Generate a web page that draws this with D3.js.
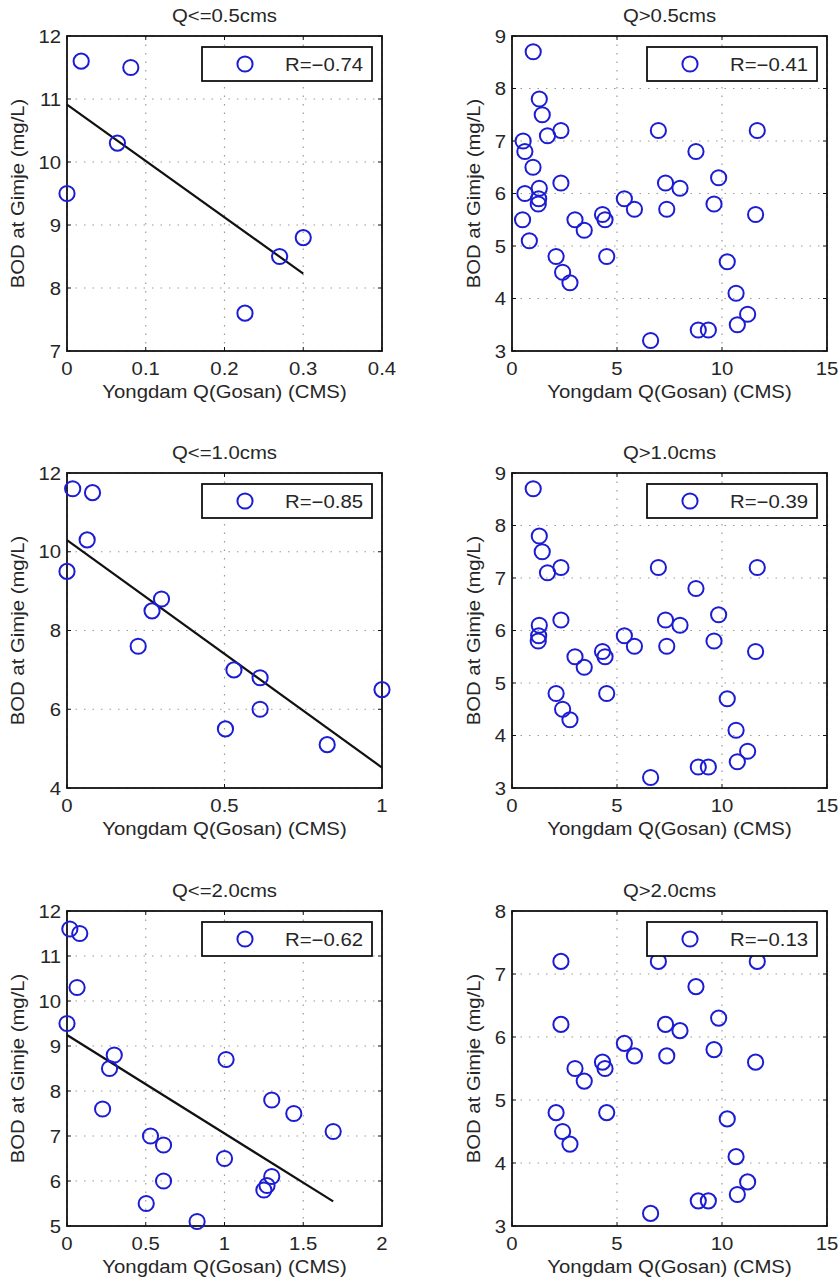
<!DOCTYPE html>
<html><head><meta charset="utf-8">
<script src="https://cdn.jsdelivr.net/npm/d3@7"></script>
<style>
body{margin:0;background:#fff}
text{font-family:"Liberation Sans",Arial,Helvetica,sans-serif;fill:#262626}
</style>
</head><body>
<svg id="c" width="839" height="1282"></svg>
<script>
// ---------- data ----------
const titles = ["Q<=0.5cms", "Q>0.5cms", "Q<=1.0cms", "Q>1.0cms", "Q<=2.0cms", "Q>2.0cms"];
const rLabels = ["R=\u22120.74", "R=\u22120.41", "R=\u22120.85", "R=\u22120.39", "R=\u22120.62", "R=\u22120.13"];
const xLabel = "Yongdam Q(Gosan) (CMS)";
const yLabel = "BOD at Gimje (mg/L)";

// Q <= 0.5
const groupA_x = [0.018, 0.081, 0.064, 0.0, 0.30, 0.27, 0.226];
const groupA_y = [11.6, 11.5, 10.3, 9.5, 8.8, 8.5, 7.6];
// 0.5 < Q <= 1.0
const groupB_x = [0.53, 0.613, 1.0, 0.613, 0.503, 0.826];
const groupB_y = [7.0, 6.8, 6.5, 6.0, 5.5, 5.1];
// 1.0 < Q <= 2.0
const groupC_x = [1.01, 1.30, 1.44, 1.69, 1.30, 1.27, 1.25];
const groupC_y = [8.7, 7.8, 7.5, 7.1, 6.1, 5.9, 5.8];
// Q > 2.0
const groupD_x = [2.33, 6.97, 11.68, 8.76, 9.84, 2.33, 7.31, 8.0, 5.35, 9.62, 5.83, 7.37, 4.31, 11.6, 4.43, 3.0, 3.44, 2.1, 4.51, 10.25, 2.41, 2.76, 10.67, 11.22, 10.73, 8.87, 9.35, 6.6];
const groupD_y = [7.2, 7.2, 7.2, 6.8, 6.3, 6.2, 6.2, 6.1, 5.9, 5.8, 5.7, 5.7, 5.6, 5.6, 5.5, 5.5, 5.3, 4.8, 4.8, 4.7, 4.5, 4.3, 4.1, 3.7, 3.5, 3.4, 3.4, 3.2];

const panelGroups = [["A"], ["B", "C", "D"], ["A", "B"], ["C", "D"], ["A", "B", "C"], ["D"]];
const panelFit = [true, false, true, false, true, false];
const xDomains = [[0, 0.4], [0, 15], [0, 1], [0, 15], [0, 2], [0, 15]];
const yDomains = [[7, 12], [3, 9], [4, 12], [3, 9], [5, 12], [3, 8]];
const xTicks = [[0, 0.1, 0.2, 0.3, 0.4], [0, 5, 10, 15], [0, 0.5, 1], [0, 5, 10, 15], [0, 0.5, 1, 1.5, 2], [0, 5, 10, 15]];
const yTicks = [[7, 8, 9, 10, 11, 12], [3, 4, 5, 6, 7, 8, 9], [4, 6, 8, 10, 12], [3, 4, 5, 6, 7, 8, 9], [5, 6, 7, 8, 9, 10, 11, 12], [3, 4, 5, 6, 7, 8]];

// ---------- layout ----------
const groups = {
  A: groupA_x.map((x, i) => [x, groupA_y[i]]),
  B: groupB_x.map((x, i) => [x, groupB_y[i]]),
  C: groupC_x.map((x, i) => [x, groupC_y[i]]),
  D: groupD_x.map((x, i) => [x, groupD_y[i]])
};
const colLeft = [67, 512];
const rowTop = [36, 473, 911];
const S = 315;
const SX = 1.13, FS = 18;
const BLUE = "#1c1cd4";

const svg = d3.select("#c");

function txt(g, x, y, s, anchor, rot) {
  return g.append("text")
    .attr("transform", `translate(${x},${y})` + (rot ? ` rotate(${rot})` : "") + ` scale(${SX},1)`)
    .attr("text-anchor", anchor)
    .style("font-size", FS + "px")
    .text(s);
}

function fit(pts) {
  const mx = d3.mean(pts, d => d[0]), my = d3.mean(pts, d => d[1]);
  const sxy = d3.sum(pts, d => (d[0] - mx) * (d[1] - my));
  const sxx = d3.sum(pts, d => (d[0] - mx) ** 2);
  const b = sxy / sxx, a = my - b * mx;
  const x0 = d3.min(pts, d => d[0]), x1 = d3.max(pts, d => d[0]);
  return [[x0, a + b * x0], [x1, a + b * x1]];
}

titles.forEach((title, p) => {
  const L = colLeft[p % 2], T = rowTop[Math.floor(p / 2)];
  const x = d3.scaleLinear().domain(xDomains[p]).range([L, L + S]);
  const y = d3.scaleLinear().domain(yDomains[p]).range([T + S, T]);
  const g = svg.append("g");
  const pts = panelGroups[p].flatMap(k => groups[k]);

  g.append("rect").attr("x", L).attr("y", T).attr("width", S).attr("height", S).attr("fill", "#fff");

  // grid
  const grid = g.append("g").attr("stroke", "#9a9a9a").attr("stroke-width", 1.2).attr("stroke-dasharray", "1.5,7");
  xTicks[p].forEach(v => grid.append("line").attr("x1", x(v)).attr("x2", x(v)).attr("y1", T).attr("y2", T + S));
  yTicks[p].forEach(v => grid.append("line").attr("y1", y(v)).attr("y2", y(v)).attr("x1", L).attr("x2", L + S));

  // ticks (inward, all sides)
  const tk = g.append("g").attr("stroke", "#111").attr("stroke-width", 1);
  xTicks[p].forEach(v => {
    tk.append("line").attr("x1", x(v)).attr("x2", x(v)).attr("y1", T + S).attr("y2", T + S - 4);
    tk.append("line").attr("x1", x(v)).attr("x2", x(v)).attr("y1", T).attr("y2", T + 4);
  });
  yTicks[p].forEach(v => {
    tk.append("line").attr("y1", y(v)).attr("y2", y(v)).attr("x1", L).attr("x2", L + 4);
    tk.append("line").attr("y1", y(v)).attr("y2", y(v)).attr("x1", L + S).attr("x2", L + S - 4);
  });

  // fit line
  if (panelFit[p]) {
    const f = fit(pts);
    g.append("line").attr("x1", x(f[0][0])).attr("y1", y(f[0][1])).attr("x2", x(f[1][0])).attr("y2", y(f[1][1]))
      .attr("stroke", "#111").attr("stroke-width", 2.2);
  }

  // box
  g.append("rect").attr("x", L).attr("y", T).attr("width", S).attr("height", S)
    .attr("fill", "none").attr("stroke", "#111").attr("stroke-width", 1.8);

  // points
  g.append("g").selectAll("circle").data(pts).join("circle")
    .attr("cx", d => x(d[0])).attr("cy", d => y(d[1])).attr("r", 7.6)
    .attr("fill", "none").attr("stroke", BLUE).attr("stroke-width", 2);

  // tick labels
  const fmt = v => String(v);
  xTicks[p].forEach(v => txt(g, x(v), T + S + 24, fmt(v), "middle"));
  let maxW = 0;
  yTicks[p].forEach(v => {
    const t = txt(g, L - 6, y(v) + 6.5, fmt(v), "end");
    maxW = Math.max(maxW, t.node().getBBox().width * SX);
  });

  // labels
  txt(g, L + S / 2, T - 14, title, "middle");
  txt(g, L + S / 2, T + S + 47, xLabel, "middle");
  txt(g, L - 6 - maxW - 14, T + S / 2, yLabel, "middle", -90);

  // legend
  const lw = 170, lh = 34;
  const lx = L + S - 10 - lw, ly = T + 11;
  g.append("rect").attr("x", lx).attr("y", ly).attr("width", lw).attr("height", lh)
    .attr("fill", "#fff").attr("stroke", "#111").attr("stroke-width", 1.8);
  g.append("circle").attr("cx", lx + 43).attr("cy", ly + lh / 2).attr("r", 7.6)
    .attr("fill", "none").attr("stroke", BLUE).attr("stroke-width", 2);
  txt(g, lx + lw - 9, ly + lh / 2 + 6.5, rLabels[p], "end");
});
</script>
</body></html>
